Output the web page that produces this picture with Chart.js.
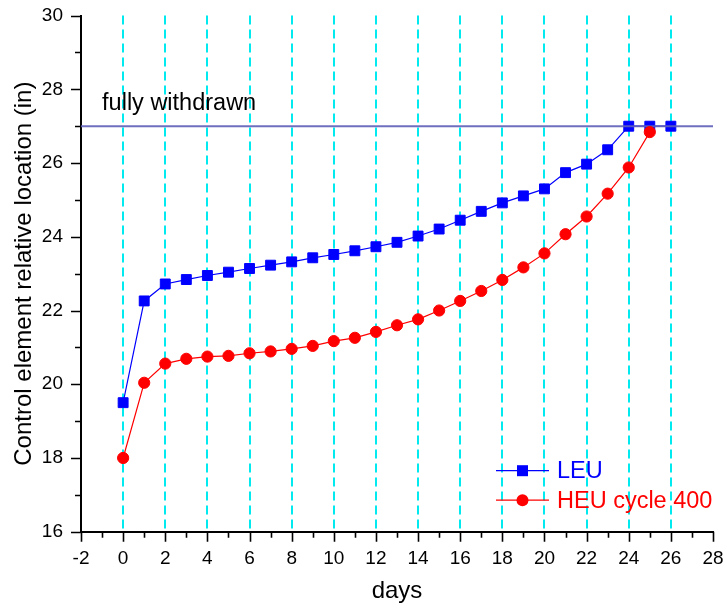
<!DOCTYPE html>
<html>
<head>
<meta charset="utf-8">
<script src="https://cdn.jsdelivr.net/npm/chart.js@4/dist/chart.umd.min.js"></script>
<style>
  html, body { margin: 0; padding: 0; background: #fff; }
  canvas { display: block; }
</style>
</head>
<body>
<canvas id="c" width="727" height="609"></canvas>
<script>
// Control element position over the operating cycle
const leuDays = [0, 1, 2, 3, 4, 5, 6, 7, 8, 9, 10, 11, 12, 13, 14, 15, 16, 17, 18, 19, 20, 21, 22, 23, 24, 25, 26];
const leuPos  = [19.50, 22.26, 22.72, 22.84, 22.95, 23.04, 23.14, 23.23, 23.32, 23.43, 23.52, 23.62, 23.73, 23.85,
                 24.02, 24.21, 24.45, 24.69, 24.92, 25.11, 25.30, 25.74, 25.97, 26.36, 27.00, 27.00, 27.00];
const heuDays = [0, 1, 2, 3, 4, 5, 6, 7, 8, 9, 10, 11, 12, 13, 14, 15, 16, 17, 18, 19, 20, 21, 22, 23, 24, 25];
const heuPos  = [18.00, 20.04, 20.56, 20.69, 20.75, 20.77, 20.84, 20.89, 20.96, 21.04, 21.17, 21.26, 21.42, 21.60,
                 21.76, 22.00, 22.26, 22.53, 22.83, 23.17, 23.55, 24.07, 24.55, 25.17, 25.88, 26.84];
const withdrawnLevel = 27;
const withdrawnSpan = [-2, 28];
const seriesNames = ['LEU', 'HEU cycle 400'];
const withdrawnLabel = 'fully withdrawn';
const xTitle = 'days';
const yTitle = 'Control element relative location (in)';
const xRange = [-2, 28];
const yRange = [16, 30];

const FONT = "'Liberation Sans', Arial, Helvetica, sans-serif";
Chart.defaults.font.family = FONT;
Chart.defaults.color = '#000';

const toPoints = (xs, ys) => xs.map((x, i) => ({ x: x, y: ys[i] }));

// Major (even) and minor (odd) tick marks on both axes
const axisTicks = {
  id: 'axisTicks',
  afterDraw(chart) {
    const { ctx, chartArea: a, scales: { x, y } } = chart;
    ctx.save();
    ctx.strokeStyle = '#000';
    ctx.lineWidth = 1.6;
    ctx.beginPath();
    for (let v = xRange[0]; v <= xRange[1]; v++) {
      const px = Math.round(x.getPixelForValue(v)) + 0.5;
      const len = v % 2 === 0 ? 10 : 6;
      ctx.moveTo(px, a.bottom);
      ctx.lineTo(px, a.bottom + len);
    }
    for (let v = yRange[0]; v <= yRange[1]; v++) {
      const py = Math.round(y.getPixelForValue(v)) + 0.5;
      const len = v % 2 === 0 ? 10 : 6;
      ctx.moveTo(a.left, py);
      ctx.lineTo(a.left - len, py);
    }
    ctx.stroke();
    ctx.restore();
  }
};

// Text label over the withdrawn line, and the legend box
const annotations = {
  id: 'annotations',
  afterDatasetsDraw(chart) {
    const { ctx, chartArea: a, scales: { x, y } } = chart;
    ctx.save();
    ctx.font = '23.5px ' + FONT;
    ctx.fillStyle = '#000';
    ctx.textAlign = 'left';
    ctx.textBaseline = 'alphabetic';
    ctx.fillText(withdrawnLabel, x.getPixelForValue(-1), y.getPixelForValue(withdrawnLevel) - 16);

    const entries = [
      { text: seriesNames[0], color: '#0000ff', style: 'rect', dy: 0 },
      { text: seriesNames[1], color: '#ff0000', style: 'circle', dy: 29.5 }
    ];
    const x0 = a.right - 217, x1 = a.right - 164, tx = a.right - 156, y0 = a.bottom - 61;
    entries.forEach(e => {
      const yy = y0 + e.dy;
      ctx.strokeStyle = e.color;
      ctx.lineWidth = 1.2;
      ctx.beginPath();
      ctx.moveTo(x0, yy);
      ctx.lineTo(x1, yy);
      ctx.stroke();
      ctx.fillStyle = e.color;
      const cx = (x0 + x1) / 2;
      ctx.beginPath();
      if (e.style === 'rect') ctx.rect(cx - 5.5, yy - 5.5, 11, 11);
      else ctx.arc(cx, yy, 6, 0, Math.PI * 2);
      ctx.fill();
      ctx.font = '23.5px ' + FONT;
      ctx.textBaseline = 'middle';
      ctx.fillText(e.text, tx, yy + 1);
    });
    ctx.restore();
  }
};

new Chart(document.getElementById('c'), {
  type: 'line',
  data: {
    datasets: [
      {
        label: seriesNames[1],
        data: toPoints(heuDays, heuPos),
        borderColor: '#ff0000',
        backgroundColor: '#ff0000',
        borderWidth: 1.2,
        pointStyle: 'circle',
        pointRadius: 5.6,
        pointBorderWidth: 1,
        pointBorderColor: '#ff0000',
        pointBackgroundColor: '#ff0000',
        order: 0
      },
      {
        label: withdrawnLabel,
        data: toPoints(withdrawnSpan, withdrawnSpan.map(() => withdrawnLevel)),
        borderColor: 'rgba(95, 95, 185, 0.9)',
        borderWidth: 2,
        pointRadius: 0,
        order: 1
      },
      {
        label: seriesNames[0],
        data: toPoints(leuDays, leuPos),
        borderColor: '#0000ff',
        backgroundColor: '#0000ff',
        borderWidth: 1.2,
        pointStyle: 'rect',
        pointRadius: 7,
        pointBorderWidth: 1,
        pointBorderColor: '#0000ff',
        pointBackgroundColor: '#0000ff',
        order: 2
      }
    ]
  },
  options: {
    responsive: false,
    animation: false,
    devicePixelRatio: 1,
    layout: { padding: { left: 0, top: 15.6, right: 14, bottom: 0 } },
    plugins: { legend: { display: false }, tooltip: { enabled: false } },
    elements: { line: { tension: 0 } },
    scales: {
      x: {
        type: 'linear',
        min: xRange[0],
        max: xRange[1],
        afterFit(s) { s.height = 77.3; s.paddingLeft = 8; s.paddingRight = 8; },
        ticks: {
          stepSize: 1,
          autoSkip: false,
          maxRotation: 0,
          padding: 15.5,
          font: { size: 19 },
          color: '#000',
          callback: v => (v % 2 === 0 ? String(v) : '')
        },
        grid: {
          drawTicks: false,
          color: c => (c.tick && c.tick.value % 2 === 0 && c.tick.value >= 0 && c.tick.value <= 26) ? '#00eaf0' : 'rgba(0,0,0,0)',
          lineWidth: 2
        },
        border: { display: true, color: '#000', width: 2, dash: [9, 5] },
        title: { display: true, text: xTitle, font: { size: 24 }, color: '#000', padding: { top: 0, bottom: 3.5 } }
      },
      y: {
        type: 'linear',
        min: yRange[0],
        max: yRange[1],
        afterFit(s) { s.width = 81; s.paddingTop = 8; s.paddingBottom = 8; },
        ticks: {
          stepSize: 1,
          autoSkip: false,
          padding: 18,
          font: { size: 19 },
          color: '#000',
          callback: v => (v % 2 === 0 ? String(v) : '')
        },
        grid: { drawOnChartArea: false, drawTicks: false },
        border: { display: true, color: '#000', width: 2 },
        title: { display: true, text: yTitle, font: { size: 24 }, color: '#000', padding: { top: 9.6, bottom: 0 } }
      }
    }
  },
  plugins: [axisTicks, annotations]
});
</script>
</body>
</html>
